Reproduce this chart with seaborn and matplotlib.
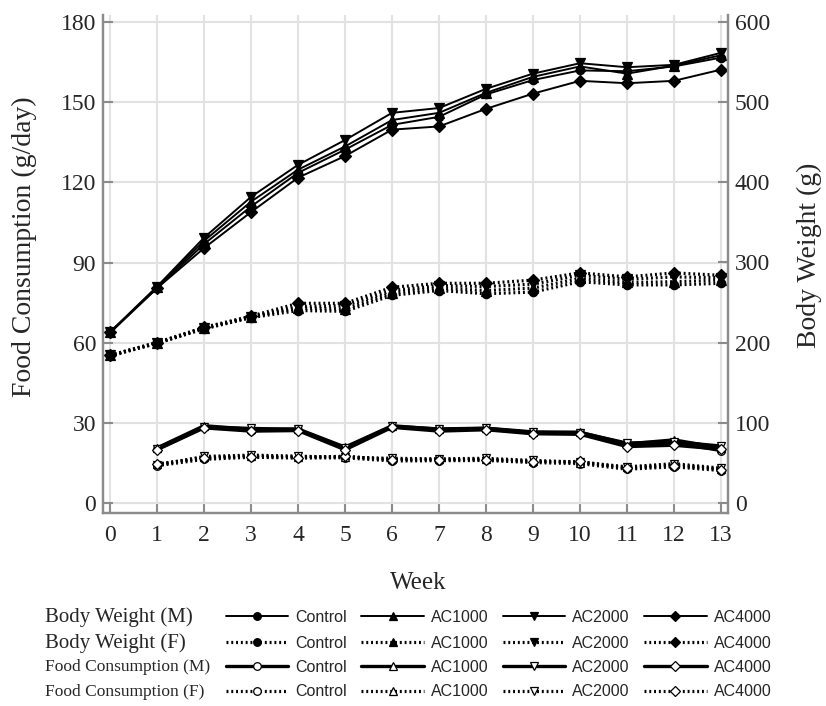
import matplotlib
matplotlib.use('Agg')
import matplotlib.pyplot as plt
import seaborn as sns
from matplotlib.lines import Line2D

# 周数
weeks = list(range(0, 14))
fc_weeks = list(range(1, 14))
groups = ['Control', 'AC1000', 'AC2000', 'AC4000']

# Body weight, males (g)
bw_m_control = [212, 268, 323, 370, 412, 441, 472, 482, 510, 528, 540, 539, 545, 556]
bw_m_ac1000 = [213, 269, 327, 376, 416, 445, 478, 487, 512, 532, 545, 536, 546, 559]
bw_m_ac2000 = [213, 270, 331, 382, 422, 453, 487, 493, 517, 536, 549, 544, 547, 562]
bw_m_ac4000 = [213, 268, 318, 363, 406, 433, 466, 470, 492, 511, 527, 524, 527, 541]

# Body weight, females (g)
bw_f_control = [183, 199, 217, 231, 240, 239, 259, 265, 261, 263, 276, 272, 272, 274]
bw_f_ac1000 = [184, 200, 218, 232, 243, 242, 262, 268, 265, 268, 280, 275, 276, 278]
bw_f_ac2000 = [184, 199, 218, 232, 245, 246, 265, 271, 270, 273, 284, 279, 282, 281]
bw_f_ac4000 = [184, 200, 219, 233, 249, 249, 269, 274, 274, 278, 287, 282, 287, 284]

# Food consumption, males (g/day), weeks 1-13
fc_m_control = [20.2, 28.5, 27.0, 27.3, 20.3, 28.5, 27.2, 27.6, 26.0, 26.0, 21.5, 22.5, 19.5]
fc_m_ac1000 = [20.5, 28.8, 27.5, 27.6, 20.8, 28.8, 27.5, 27.8, 26.3, 26.4, 22.0, 23.5, 20.5]
fc_m_ac2000 = [20.0, 28.3, 27.8, 27.4, 20.5, 28.6, 27.6, 27.9, 26.5, 26.2, 22.3, 22.8, 21.2]
fc_m_ac4000 = [19.8, 28.0, 26.8, 27.0, 19.8, 28.2, 26.8, 27.3, 25.8, 25.6, 21.0, 21.5, 20.0]

# Food consumption, females (g/day), weeks 1-13
fc_f_control = [13.8, 16.2, 17.0, 16.7, 16.8, 15.6, 15.7, 15.8, 15.0, 14.6, 12.5, 13.4, 12.0]
fc_f_ac1000 = [14.3, 17.0, 17.5, 17.2, 17.2, 16.2, 16.2, 16.3, 15.5, 15.0, 13.2, 14.2, 12.6]
fc_f_ac2000 = [14.0, 17.3, 17.8, 17.4, 17.0, 16.6, 16.4, 16.6, 15.8, 15.2, 13.4, 14.6, 12.9]
fc_f_ac4000 = [14.5, 16.6, 17.2, 16.8, 17.4, 16.0, 16.0, 16.0, 15.3, 15.4, 12.8, 13.8, 12.3]

bw_m = [bw_m_control, bw_m_ac1000, bw_m_ac2000, bw_m_ac4000]
bw_f = [bw_f_control, bw_f_ac1000, bw_f_ac2000, bw_f_ac4000]
fc_m = [fc_m_control, fc_m_ac1000, fc_m_ac2000, fc_m_ac4000]
fc_f = [fc_f_control, fc_f_ac1000, fc_f_ac2000, fc_f_ac4000]

markers = ['o', '^', 'v', 'D']
msizes = [6, 6.5, 6.5, 6]
dotted = (0, (0.6, 0.9))
grey = '#8c8c8c'

sns.set_style('white')
plt.rcParams['font.family'] = ['Liberation Serif', 'DejaVu Serif']

# 四种线型
styles = {
    'Body Weight (M)': dict(linestyle='-', linewidth=1.4, mfc='black'),
    'Body Weight (F)': dict(linestyle=dotted, linewidth=2.3, mfc='black'),
    'Food Consumption (M)': dict(linestyle='-', linewidth=2.4, mfc='white'),
    'Food Consumption (F)': dict(linestyle=dotted, linewidth=2.3, mfc='white'),
}

fig = plt.figure(figsize=(8.26, 7.06), dpi=100)
ax = fig.add_axes([0.1247, 0.2734, 0.7567, 0.7054])
ax2 = ax.twinx()

# 摄食量 (左轴)
for series, key in [(fc_f, 'Food Consumption (F)'), (fc_m, 'Food Consumption (M)')]:
    st = styles[key]
    for vals, m, ms in zip(series, markers, msizes):
        sns.lineplot(x=fc_weeks, y=vals, ax=ax, color='black', marker=m, markersize=ms - 0.5,
                     linestyle=st['linestyle'], linewidth=st['linewidth'],
                     markerfacecolor=st['mfc'], markeredgecolor='black', markeredgewidth=0.9)

# 体重 (右轴)
for series, key in [(bw_f, 'Body Weight (F)'), (bw_m, 'Body Weight (M)')]:
    st = styles[key]
    for vals, m, ms in zip(series, markers, msizes):
        sns.lineplot(x=weeks, y=vals, ax=ax2, color='black', marker=m, markersize=ms,
                     linestyle=st['linestyle'], linewidth=st['linewidth'],
                     markerfacecolor=st['mfc'], markeredgecolor='black', markeredgewidth=0.9)

ax.set_xlim(-0.15, 13.15)
ax.set_ylim(-3.9, 182.8)
ax2.set_ylim(-13, 609.3)
ax.set_xticks(weeks)
ax.set_yticks(range(0, 181, 30))
ax2.set_yticks(range(0, 601, 100))

ax.grid(True, color='#e2e2e2', linewidth=1.5)
ax.set_axisbelow(True)
for a in (ax, ax2):
    a.spines['top'].set_visible(False)
    for s in ('left', 'right', 'bottom'):
        a.spines[s].set_color(grey)
        a.spines[s].set_linewidth(1.6)
    a.tick_params(direction='in', length=7, width=1.5, color=grey, labelsize=17, pad=5)
ax.tick_params(axis='x', pad=9, bottom=True)
ax.tick_params(axis='y', left=True)
ax2.tick_params(axis='y', right=True)

ax.set_xlabel('Week', fontsize=18)
ax.set_ylabel('Food Consumption (g/day)', fontsize=20)
ax2.set_ylabel('Body Weight (g)', fontsize=20)
ax.xaxis.set_label_coords(0.504, -0.118)
ax.yaxis.set_label_coords(-0.105, 0.535)
ax2.yaxis.set_label_coords(1.11, 0.518)

# 底部图例 (四行)
row_y = [617, 643, 667, 692]
row_fs = [15, 15, 12.5, 12.5]
for (key, st), ry, fs in zip(styles.items(), row_y, row_fs):
    yf = 1 - ry / 706
    fig.text(45 / 826, yf, key, fontsize=fs, ha='left', va='center')
    handles = [Line2D([], [], color='black', marker=m, markersize=ms - 0.5,
                      linestyle=st['linestyle'], linewidth=st['linewidth'],
                      markerfacecolor=st['mfc'], markeredgecolor='black', markeredgewidth=0.9)
               for m, ms in zip(markers, msizes)]
    fig.legend(handles, groups, loc='center left', bbox_to_anchor=(226 / 826, yf),
               ncol=4, frameon=False, handlelength=3.9, handletextpad=0.45,
               columnspacing=0.9, borderpad=0, borderaxespad=0,
               prop={'family': ['Liberation Sans'], 'size': 11.5})

fig.savefig('out.png', dpi=100)
